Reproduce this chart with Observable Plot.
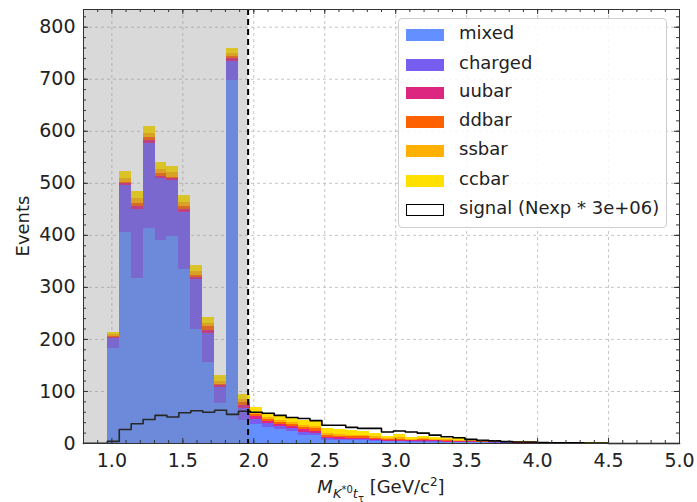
<!DOCTYPE html>
<html>
<head>
<meta charset="utf-8">
<script src="https://cdn.jsdelivr.net/npm/d3@7"></script>
<script src="https://cdn.jsdelivr.net/npm/@observablehq/plot@0.6"></script>
<style>
  html, body { margin: 0; padding: 0; background: #fff; }
  #wrap { position: relative; width: 697px; height: 502px; font-family: "DejaVu Sans", sans-serif; color: #222; }
  #legend { position: absolute; left: 398px; top: 18px; width: 269px; height: 210px; box-sizing: border-box;
    border: 1px solid #cfcfcf; border-radius: 4px; background: rgba(255,255,255,0.85); }
  .row { position: absolute; left: 0; height: 20px; }
  .patch { position: absolute; left: 7px; width: 38px; height: 12px; top: 4px; box-sizing: border-box; }
  .lab { position: absolute; left: 60px; top: -2px; font-size: 18px; white-space: nowrap; line-height: 20px; }
  #xlabel { position: absolute; left: 0; width: 762px; top: 475px; text-align: center; font-size: 18px; white-space: nowrap; }
  #ylabel { position: absolute; left: 22px; top: 226px; transform: translate(-50%, -50%) rotate(-90deg); font-size: 18px; white-space: nowrap; }
</style>
</head>
<body>
<div id="wrap"></div>
<script>
// ---- data ----
const binEdges = [0.800,0.884,0.968,1.052,1.136,1.220,1.304,1.388,1.472,1.556,1.640,1.724,1.808,1.892,1.976,2.060,2.144,2.228,2.312,2.396,2.480,2.564,2.648,2.732,2.816,2.900,2.984,3.068,3.152,3.236,3.320,3.404,3.488,3.572,3.656,3.740,3.824,3.908,3.992,4.076,4.160,4.244,4.328,4.412,4.496,4.580,4.664,4.748,4.832,4.916,5.000];
const seriesNames = ["mixed","charged","uubar","ddbar","ssbar","ccbar"];
const seriesColors = ["#648FFF","#785EF0","#DC267F","#FE6100","#FFB000","#FFE000"];
const mixed   = [0,0,183,406,317,413,390,397,335,219,156,77,698,45, 36,30,26,23,16,15, 6,6,5,5,4,3,3,2,2,2, 1,1,1,1,0.5,0.5,0.5,0.3,0.3,0.2, 0.2,0.1,0.1,0.1,0,0,0,0,0,0];
const charged = [0,0,19,90,132,163,120,109,108,96,56,31,37,22, 10,8,7,6,5,5, 3,2,2,2,1,1,1,1,1,1, 1,1,1,0.5,0.5,0.5,0.3,0.3,0.2,0.2, 0.1,0.1,0.1,0.1,0,0,0,0,0,0];
const uubar   = [0,0,2,3,6,6,4,3,6,4,6,3,4,6, 5,4,4,4,5,4, 3,3,3,3,3,2,2,2,2,2, 2,1,1,1,1,1,0.7,0.5,0.4,0.3, 0.2,0.2,0.2,0.1,0,0,0,0,0,0];
const ddbar   = [0,0,2,3,7,6,4,3,7,4,6,3,5,6, 4,4,3,3,4,4, 3,3,3,3,2,2,2,1,2,1, 1,1,1,1,1,1,0.7,0.5,0.5,0.3, 0.2,0.2,0.2,0.2,0,0,0,0,0,0];
const ssbar   = [0,0,3,8,9,8,8,8,8,7,7,6,6,6, 5,4,4,4,4,4, 4,4,3,3,3,2,3,2,2,2, 2,2,1,1,1,0.5,0.5,0.5,0.3,0.3, 0.3,0.3,0.3,0.3,0,0,0,0,0,0];
const ccbar   = [0,0,5,13,14,14,14,13,13,12,12,11,9,9, 10,8,10,10,10,10, 9,9,9,8,7,4,6,4,5,4, 3,3,2,1.5,1,1,0.8,0.9,0.8,0.7, 1,1,1.2,1.5,0,0,0,0,0,0];
const signal  = [0.5,0.5,4,27,38,46,54,51,59,63,60,64,56,62, 60,58,54,50,48,44, 35,35,31,29,29,22,24,22,20,16, 13,11,8,6,5,3.6,3,3,2,1.5, 1.5,1.2,1,1,0,0,0,0,0,0];
const signalLabel = "signal (Nexp * 3e+06)";
const cutValue = 1.96;
const xTicks = [1.0,1.5,2.0,2.5,3.0,3.5,4.0,4.5,5.0];
const yTicks = [0,100,200,300,400,500,600,700,800];
const xDomain = [0.8, 5.0];
const yDomain = [0, 834];

// ---- build tables ----
const seriesValues = [mixed, charged, uubar, ddbar, ssbar, ccbar];
const stackData = [];
for (let i = 0; i < binEdges.length - 1; i++) {
  seriesNames.forEach((name, s) => {
    stackData.push({x1: binEdges[i], x2: binEdges[i + 1], value: seriesValues[s][i], series: name});
  });
}
const signalPts = [{x: binEdges[0], y: 0}];
signal.forEach((v, i) => signalPts.push({x: binEdges[i], y: v}));
signalPts.push({x: binEdges[binEdges.length - 1], y: signal[signal.length - 1]});
signalPts.push({x: binEdges[binEdges.length - 1], y: 0});

const xMinor = d3.range(0.8, 5.0001, 0.1).map(v => +v.toFixed(2));
const yMinor = d3.range(0, 834, 20);

const W = 697, H = 502, mL = 83, mR = 18, mT = 9, mB = 59;
const fw = W - mL - mR, fh = H - mT - mB;
const axisCol = "#333";

const chart = Plot.plot({
  width: W, height: H,
  marginLeft: mL, marginRight: mR, marginTop: mT, marginBottom: mB,
  style: {fontFamily: "DejaVu Sans, sans-serif", fontSize: "19px", color: "#222", background: "white"},
  x: {domain: xDomain},
  y: {domain: yDomain},
  color: {domain: seriesNames, range: seriesColors},
  marks: [
    Plot.ruleX(xTicks, {stroke: "#b8b8b8", strokeWidth: 0.8, strokeDasharray: "3,3"}),
    Plot.ruleY(yTicks, {stroke: "#b8b8b8", strokeWidth: 0.8, strokeDasharray: "3,3"}),
    Plot.rectY(stackData, {x1: "x1", x2: "x2", y: "value", fill: "series", order: seriesNames, shapeRendering: "crispEdges"}),
    Plot.line(signalPts, {x: "x", y: "y", curve: "step-after", stroke: "black", strokeWidth: 1.6}),
    Plot.rect([cutValue], {x1: xDomain[0], x2: d => d, fill: "#808080", fillOpacity: 0.3}),
    Plot.ruleX([cutValue], {stroke: "black", strokeWidth: 2, strokeDasharray: "6,4"}),
    // inward ticks (major + minor) on all four sides
    Plot.ruleX(xTicks, {insetTop: fh - 5, stroke: axisCol}),
    Plot.ruleX(xTicks, {insetBottom: fh - 5, stroke: axisCol}),
    Plot.ruleX(xMinor, {insetTop: fh - 3, stroke: axisCol}),
    Plot.ruleX(xMinor, {insetBottom: fh - 3, stroke: axisCol}),
    Plot.ruleY(yTicks, {insetRight: fw - 5, stroke: axisCol}),
    Plot.ruleY(yTicks, {insetLeft: fw - 5, stroke: axisCol}),
    Plot.ruleY(yMinor, {insetRight: fw - 3, stroke: axisCol}),
    Plot.ruleY(yMinor, {insetLeft: fw - 3, stroke: axisCol}),
    Plot.axisX({ticks: xTicks, tickFormat: d3.format(".1f"), tickSize: 0, tickPadding: 10, fontSize: 19, label: null}),
    Plot.axisY({ticks: yTicks, tickFormat: d3.format("d"), tickSize: 0, tickPadding: 8, fontSize: 19, label: null}),
    Plot.frame({stroke: axisCol, strokeWidth: 1})
  ]
});

const wrap = document.getElementById("wrap");
wrap.appendChild(chart);

// legend
const legend = document.createElement("div");
legend.id = "legend";
const rowTops = [16, 45.5, 74, 103, 132, 162, 190.5];
seriesNames.forEach((name, i) => {
  const r = document.createElement("div");
  r.className = "row";
  r.style.top = (rowTops[i] - 10) + "px";
  r.innerHTML = `<div class="patch" style="background:${seriesColors[i]}"></div><div class="lab">${name}</div>`;
  legend.appendChild(r);
});
const rs = document.createElement("div");
rs.className = "row";
rs.style.top = (rowTops[6] - 10) + "px";
rs.innerHTML = `<div class="patch" style="background:#fff;border:1.5px solid #000"></div><div class="lab">${signalLabel}</div>`;
legend.appendChild(rs);
wrap.appendChild(legend);

// axis titles
const xl = document.createElement("div");
xl.id = "xlabel";
xl.innerHTML = `<i>M</i><sub style="font-size:13px"><i>K</i><sup style="font-size:10px">*0</sup><i>t</i><sub style="font-size:10px">τ</sub></sub> [GeV/c<sup style="font-size:12px">2</sup>]`;
wrap.appendChild(xl);
const yl = document.createElement("div");
yl.id = "ylabel";
yl.textContent = "Events";
wrap.appendChild(yl);
</script>
</body>
</html>
